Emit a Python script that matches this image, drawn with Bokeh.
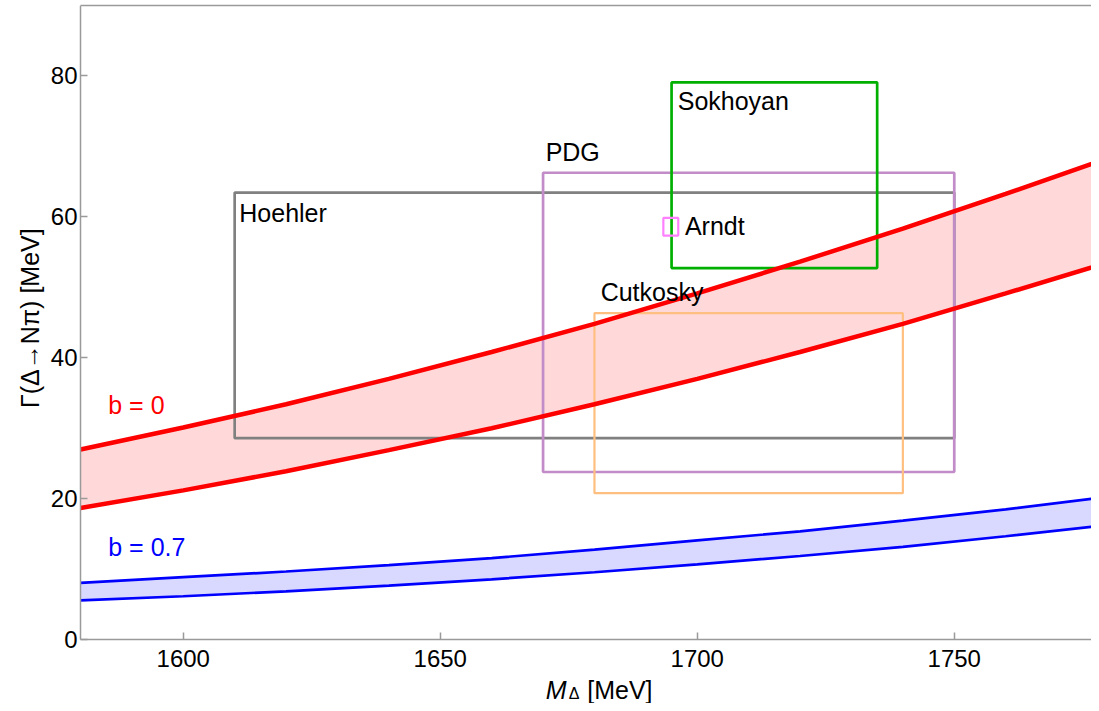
import math
from bokeh.plotting import figure
from bokeh.models import Range1d, LinearAxis, FixedTicker, Label, ColumnDataSource
from bokeh.embed import file_html
from bokeh.resources import INLINE

# ---- data ----
mass = [1580, 1600, 1620, 1640, 1660, 1680, 1700, 1720, 1740, 1760, 1780]
width_b0_upper = [27.0, 30.1, 33.4, 37.0, 40.8, 44.8, 49.1, 53.6, 58.3, 63.2, 68.3]
width_b0_lower = [18.7, 21.2, 23.9, 26.9, 30.0, 33.4, 37.0, 40.8, 44.8, 49.1, 53.5]
width_b07_upper = [8.1, 8.9, 9.7, 10.6, 11.6, 12.8, 14.1, 15.4, 16.9, 18.5, 20.3]
width_b07_lower = [5.6, 6.2, 6.9, 7.7, 8.6, 9.6, 10.7, 11.9, 13.2, 14.7, 16.3]

exp_names = ["Hoehler", "PDG", "Sokhoyan", "Cutkosky", "Arndt"]
exp_mass_lo = [1610, 1670, 1695, 1680, 1693.4]
exp_mass_hi = [1750, 1750, 1735, 1740, 1696.3]
exp_width_lo = [28.6, 23.8, 52.7, 20.8, 57.3]
exp_width_hi = [63.4, 66.2, 79.0, 46.3, 59.8]

x_ticks = [1600, 1650, 1700, 1750]
y_ticks = [0, 20, 40, 60, 80]

band_labels = ["b = 0", "b = 0.7"]

# ---- styles / layout ----
FONT = "Liberation Sans"
box_colors = ["#808080", "#C28CC8", "#00B000", "#FFBF80", "#FF80FF"]
box_widths = [2.7, 2.7, 2.7, 2.2, 2.2]
AX = "#9a9a9a"
X0, X1 = 1580, 1776.7
Y_TOP = 89.9

p = figure(width=1091, height=703, output_backend="svg", toolbar_location=None,
           x_range=Range1d(1564.44, X1), y_range=Range1d(-9.0, Y_TOP),
           min_border_left=0, min_border_right=0, min_border_top=5,
           min_border_bottom=0)
p.outline_line_color = None
p.grid.grid_line_color = None
p.background_fill_color = "white"

# bands
p.varea(x=mass, y1=width_b0_lower, y2=width_b0_upper, fill_color="#FFD9D9")
p.varea(x=mass, y1=width_b07_lower, y2=width_b07_upper, fill_color="#D9D9FF")

# experimental boxes
src = ColumnDataSource(dict(left=exp_mass_lo, right=exp_mass_hi, bottom=exp_width_lo,
                            top=exp_width_hi, color=box_colors, lw=box_widths))
p.quad(left="left", right="right", bottom="bottom", top="top", source=src,
       fill_color=None, line_color="color", line_width="lw")

# band edges
p.line(mass, width_b0_upper, line_color="#FF0000", line_width=4.5)
p.line(mass, width_b0_lower, line_color="#FF0000", line_width=4.5)
p.line(mass, width_b07_upper, line_color="#0000FF", line_width=2.7)
p.line(mass, width_b07_lower, line_color="#0000FF", line_width=2.7)

# axes
xa = p.below[0]
ya = p.left[0]
xa.fixed_location = 0
ya.fixed_location = X0
xa.ticker = FixedTicker(ticks=x_ticks)
ya.ticker = FixedTicker(ticks=y_ticks)
xa.bounds = (X0, X1)
ya.bounds = (0, Y_TOP)
for ax in (xa, ya):
    ax.axis_line_color = AX
    ax.axis_line_width = 1.5
    ax.major_tick_line_color = AX
    ax.major_tick_line_width = 1.5
    ax.major_tick_in = 7
    ax.major_tick_out = 0
    ax.minor_tick_line_color = None
    ax.major_label_text_font = FONT
    ax.major_label_text_font_size = "24px"
    ax.major_label_text_color = "black"
xa.major_label_standoff = 10
ya.major_label_standoff = 3

top = LinearAxis(ticker=FixedTicker(ticks=[]), axis_line_color=AX, axis_line_width=1.5,
                 major_label_text_font_size="0px", major_tick_line_color=None,
                 minor_tick_line_color=None, bounds=(X0, X1))
p.add_layout(top, "above")

# y-axis title
p.add_layout(Label(x=1570.1, y=45.6, text="Γ(Δ→Nπ) [MeV]", angle=math.pi / 2,
                   text_font=FONT, text_font_size="25px", text_align="center",
                   text_baseline="middle", text_color="black"))

# x-axis title built from pieces (italic M with subscript Delta)
p.add_layout(Label(x=1670.5, y=-7.1, text="M", text_font=FONT, text_font_size="25px",
                   text_font_style="italic", text_baseline="middle", text_align="left",
                   text_color="black"))
p.add_layout(Label(x=1675.0, y=-7.6, text="Δ", text_font=FONT, text_font_size="16px",
                   text_baseline="middle", text_align="left", text_color="black"))
p.add_layout(Label(x=1678.6, y=-7.1, text="[MeV]", text_font=FONT, text_font_size="25px",
                   text_baseline="middle", text_align="left", text_color="black"))

# box labels
label_pos = [(1610.9, 60.5), (1670.5, 69.1), (1696.2, 76.3), (1681.2, 49.3), (1697.6, 58.6)]
for name, (lx, ly) in zip(exp_names, label_pos):
    p.add_layout(Label(x=lx, y=ly, text=name, text_font=FONT, text_font_size="25px",
                       text_baseline="middle", text_align="left", text_color="black"))

p.add_layout(Label(x=1585.4, y=33.3, text=band_labels[0], text_font=FONT,
                   text_font_size="25px", text_baseline="middle", text_color="#FF0000"))
p.add_layout(Label(x=1585.4, y=13.2, text=band_labels[1], text_font=FONT,
                   text_font_size="25px", text_baseline="middle", text_color="#0000FF"))

open("out.html", "w").write(file_html(p, INLINE))
